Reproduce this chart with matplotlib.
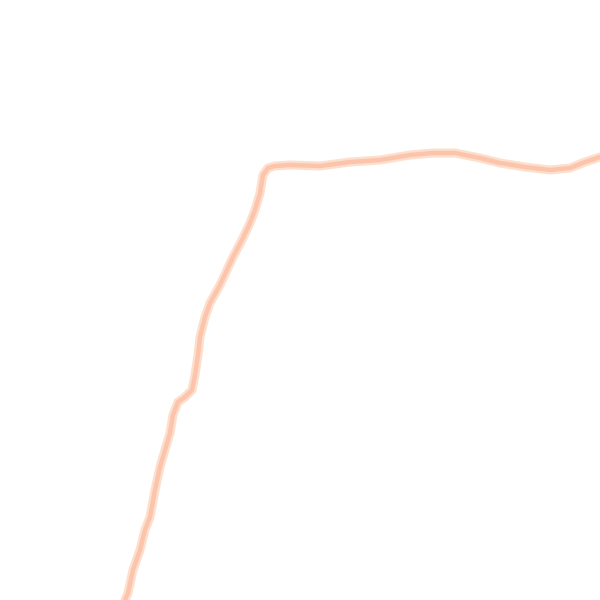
import numpy as np
import matplotlib.pyplot as plt

# Verlauf der Linie (x nach rechts, y nach oben, Bildkoordinaten 0..600)
trace_x = [125, 128, 133, 140, 145, 150, 155, 160, 165, 170, 173, 178, 185, 192,
           195, 198, 200, 205, 210, 220, 233, 242, 250, 255, 260, 263, 268, 275,
           290, 320, 350, 380, 410, 433, 455, 480, 500, 525, 550, 570, 585, 600]
trace_y = [0, 7, 30, 50, 70, 83, 110, 133, 150, 167, 185, 198, 203, 210,
           225, 245, 263, 283, 297, 315, 343, 360, 377, 390, 407, 425, 432, 434,
           435, 434, 438, 440, 445, 447, 447, 442, 437, 433, 430, 432, 438, 443]

fig = plt.figure(figsize=(6, 6), dpi=100)
ax = fig.add_axes([0, 0, 1, 1])

# breiter heller Rand und etwas kräftigerer Kern
ax.plot(trace_x, trace_y, color='#fde0cc', linewidth=6.5, solid_capstyle='round')
ax.plot(trace_x, trace_y, color='#fcc4ac', linewidth=3.2, solid_capstyle='round')

ax.set_xlim(0, 600)
ax.set_ylim(0, 600)
ax.axis('off')

fig.savefig('out.png', dpi=100)
